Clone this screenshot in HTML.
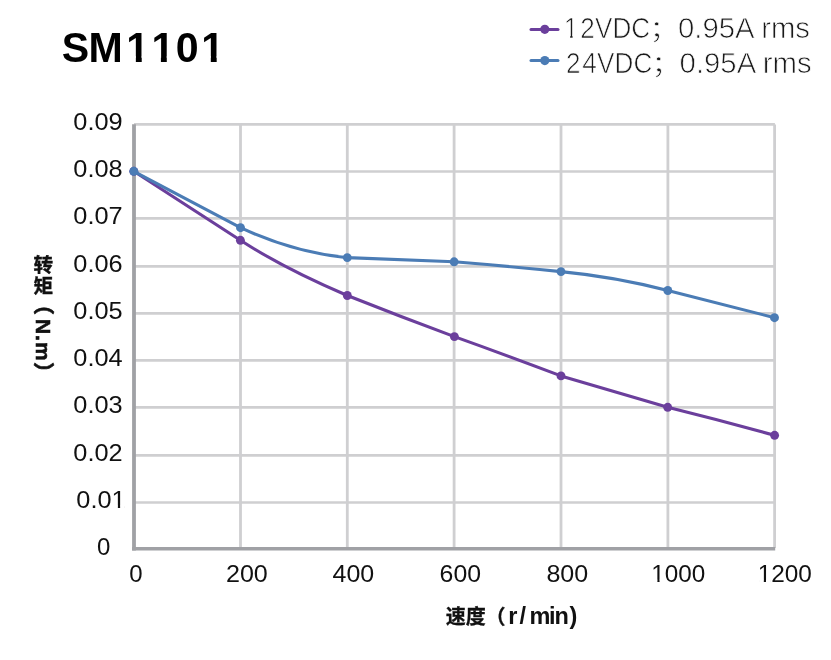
<!DOCTYPE html>
<html><head><meta charset="utf-8"><title>SM1101</title>
<style>
html,body{margin:0;padding:0;background:#fff;}
body{width:831px;height:660px;position:relative;overflow:hidden;}
svg{position:absolute;left:0;top:0;will-change:transform;}
text{font-family:"Liberation Sans","Noto Sans CJK SC",sans-serif;}
.t{font-size:24px;fill:#111;}
.ttl{font-size:42.4px;font-weight:bold;fill:#000;}
.lg{font-size:29px;fill:#1a1a1a;stroke:#fff;stroke-width:0.75px;}
.cj{font-family:"Noto Sans CJK SC","Liberation Sans",sans-serif;font-size:20.5px;font-weight:bold;fill:#111;}
.cjh{stroke:#111;stroke-width:0.4px;}
.lb{font-size:23.5px;font-weight:bold;fill:#111;}
.yl{font-size:20.9px;font-weight:bold;fill:#111;}
</style></head><body>
<svg width="831" height="660" viewBox="0 0 831 660">
<text transform="scale(0.97,1)" x="63.65 91.31 130.28 156.11 181.12 207.55" y="61.8" class="ttl">SM1101</text><rect x="127.36" y="56.18" width="8.49" height="6.52" fill="#fff"/><rect x="141.73" y="56.18" width="7.96" height="6.52" fill="#fff"/><rect x="152.41" y="56.18" width="8.49" height="6.52" fill="#fff"/><rect x="166.78" y="56.18" width="7.96" height="6.52" fill="#fff"/><rect x="202.31" y="56.18" width="8.49" height="6.52" fill="#fff"/><rect x="216.68" y="56.18" width="7.96" height="6.52" fill="#fff"/>
<line x1="531" y1="29.4" x2="558" y2="29.4" stroke="#6b3f9c" stroke-width="3" stroke-linecap="round"/>
<circle cx="544.8" cy="29.3" r="4.6" fill="#6b3f9c"/>
<line x1="531" y1="60.6" x2="558" y2="60.6" stroke="#4b7cb5" stroke-width="3" stroke-linecap="round"/>
<circle cx="544.8" cy="60.6" r="4.6" fill="#4b7cb5"/>
<text transform="scale(0.9,1)" x="626.29 644.77 661.11 680.70 701.45" y="38.3" class="lg">12VDC</text><rect x="564.04" y="34.83" width="6.07" height="4.38" fill="#fff"/><rect x="572.63" y="34.83" width="5.86" height="4.38" fill="#fff"/>
<text transform="translate(649.5,38.3) scale(1,0.845)" class="lg">；</text>
<text x="678" y="38.3" class="lg" textLength="132" lengthAdjust="spacingAndGlyphs">0.95A rms</text>
<text transform="scale(0.9,1)" x="628.88 646.91 663.22 682.65 703.84" y="73.2" class="lg">24VDC</text>
<text transform="translate(651.5,73.2) scale(1,0.845)" class="lg">；</text>
<text x="679.6" y="73.2" class="lg" textLength="132" lengthAdjust="spacingAndGlyphs">0.95A rms</text>
<line x1="134" y1="502.5" x2="774.9" y2="502.5" stroke="#cfcfd1" stroke-width="2.7"/>
<line x1="134" y1="455.3" x2="774.9" y2="455.3" stroke="#cfcfd1" stroke-width="2.7"/>
<line x1="134" y1="407.4" x2="774.9" y2="407.4" stroke="#cfcfd1" stroke-width="2.7"/>
<line x1="134" y1="360.3" x2="774.9" y2="360.3" stroke="#cfcfd1" stroke-width="2.7"/>
<line x1="134" y1="313.4" x2="774.9" y2="313.4" stroke="#cfcfd1" stroke-width="2.7"/>
<line x1="134" y1="266.4" x2="774.9" y2="266.4" stroke="#cfcfd1" stroke-width="2.7"/>
<line x1="134" y1="218.4" x2="774.9" y2="218.4" stroke="#cfcfd1" stroke-width="2.7"/>
<line x1="134" y1="171.5" x2="774.9" y2="171.5" stroke="#cfcfd1" stroke-width="2.7"/>
<line x1="134" y1="124.4" x2="774.9" y2="124.4" stroke="#cfcfd1" stroke-width="2.7"/>
<line x1="240.5" y1="123.1" x2="240.5" y2="548" stroke="#cfcfd1" stroke-width="2.8"/>
<line x1="347.3" y1="123.1" x2="347.3" y2="548" stroke="#cfcfd1" stroke-width="2.8"/>
<line x1="454.1" y1="123.1" x2="454.1" y2="548" stroke="#cfcfd1" stroke-width="2.8"/>
<line x1="561.0" y1="123.1" x2="561.0" y2="548" stroke="#cfcfd1" stroke-width="2.8"/>
<line x1="667.9" y1="123.1" x2="667.9" y2="548" stroke="#cfcfd1" stroke-width="2.8"/>
<line x1="774.6" y1="124.6" x2="774.6" y2="548" stroke="#cfcfd1" stroke-width="2.8"/>
<line x1="134" y1="124.2" x2="134" y2="550.6" stroke="#a0a1a5" stroke-width="3.8"/>
<line x1="132.1" y1="548.7" x2="775.2" y2="548.7" stroke="#a0a1a5" stroke-width="3.6"/>
<path d="M133.80,171.30 L240.40,240.30 C276.03,263.30 311.67,280.30 347.30,295.50 C383.00,309.70 418.70,323.40 454.40,336.60 C489.93,349.30 525.47,362.40 561.00,375.90 C596.57,386.67 632.13,397.13 667.70,407.30 C703.33,416.13 738.97,425.47 774.60,435.30" fill="none" stroke="#6b3f9c" stroke-width="3.1" stroke-linejoin="round"/>
<circle cx="133.8" cy="171.3" r="4.45" fill="#6b3f9c"/>
<circle cx="240.4" cy="240.3" r="4.45" fill="#6b3f9c"/>
<circle cx="347.3" cy="295.5" r="4.45" fill="#6b3f9c"/>
<circle cx="454.4" cy="336.6" r="4.45" fill="#6b3f9c"/>
<circle cx="561.0" cy="375.9" r="4.45" fill="#6b3f9c"/>
<circle cx="667.7" cy="407.3" r="4.45" fill="#6b3f9c"/>
<circle cx="774.6" cy="435.3" r="4.45" fill="#6b3f9c"/>
<path d="M133.80,171.30 L240.50,227.70 C276.10,244.27 311.70,254.23 347.30,257.60 C382.90,258.70 418.50,260.10 454.10,261.80 C489.73,264.67 525.37,267.93 561.00,271.60 C596.60,275.00 632.20,281.30 667.80,290.50 L774.50,317.70" fill="none" stroke="#4b7cb5" stroke-width="3.1" stroke-linejoin="round"/>
<circle cx="133.8" cy="171.3" r="4.45" fill="#4b7cb5"/>
<circle cx="240.5" cy="227.7" r="4.45" fill="#4b7cb5"/>
<circle cx="347.3" cy="257.6" r="4.45" fill="#4b7cb5"/>
<circle cx="454.1" cy="261.8" r="4.45" fill="#4b7cb5"/>
<circle cx="561.0" cy="271.6" r="4.45" fill="#4b7cb5"/>
<circle cx="667.8" cy="290.5" r="4.45" fill="#4b7cb5"/>
<circle cx="774.5" cy="317.7" r="4.45" fill="#4b7cb5"/>
<text x="103.6" y="554.6" text-anchor="middle" class="t">0</text>
<text x="125.6" y="507.8" text-anchor="end" class="t" textLength="49.3" lengthAdjust="spacingAndGlyphs">0.01</text>
<text x="122.6" y="460.6" text-anchor="end" class="t" textLength="49.3" lengthAdjust="spacingAndGlyphs">0.02</text>
<text x="122.6" y="412.7" text-anchor="end" class="t" textLength="49.3" lengthAdjust="spacingAndGlyphs">0.03</text>
<text x="122.6" y="365.6" text-anchor="end" class="t" textLength="49.3" lengthAdjust="spacingAndGlyphs">0.04</text>
<text x="122.6" y="318.7" text-anchor="end" class="t" textLength="49.3" lengthAdjust="spacingAndGlyphs">0.05</text>
<text x="122.6" y="271.7" text-anchor="end" class="t" textLength="49.3" lengthAdjust="spacingAndGlyphs">0.06</text>
<text x="122.6" y="223.7" text-anchor="end" class="t" textLength="49.3" lengthAdjust="spacingAndGlyphs">0.07</text>
<text x="122.6" y="176.8" text-anchor="end" class="t" textLength="49.3" lengthAdjust="spacingAndGlyphs">0.08</text>
<text x="122.6" y="129.7" text-anchor="end" class="t" textLength="49.3" lengthAdjust="spacingAndGlyphs">0.09</text>
<text x="135.9" y="581.9" text-anchor="middle" class="t">0</text>
<text x="246.9" y="581.9" text-anchor="middle" class="t" textLength="41.9" lengthAdjust="spacingAndGlyphs">200</text>
<text x="353.4" y="581.9" text-anchor="middle" class="t" textLength="41.7" lengthAdjust="spacingAndGlyphs">400</text>
<text x="460.3" y="581.9" text-anchor="middle" class="t" textLength="41.4" lengthAdjust="spacingAndGlyphs">600</text>
<text x="567.3" y="581.9" text-anchor="middle" class="t" textLength="41.8" lengthAdjust="spacingAndGlyphs">800</text>
<text x="678.3" y="581.9" text-anchor="middle" class="t" textLength="54" lengthAdjust="spacingAndGlyphs">1000</text>
<text x="784.8" y="581.9" text-anchor="middle" class="t" textLength="54.2" lengthAdjust="spacingAndGlyphs">1200</text>
<rect x="652.66" y="579.75" width="4.73" height="2.70" fill="#fff"/>
<rect x="659.56" y="579.75" width="4.54" height="2.70" fill="#fff"/>
<rect x="759.06" y="579.75" width="4.75" height="2.70" fill="#fff"/>
<rect x="765.99" y="579.75" width="4.56" height="2.70" fill="#fff"/>
<rect x="112.93" y="505.63" width="4.94" height="2.70" fill="#fff"/>
<rect x="120.13" y="505.63" width="4.74" height="2.70" fill="#fff"/>
<text x="445.7 465.7 485.6" y="623.6" class="cj cjh" style="font-size:20px;stroke-width:0.3px">速度（</text>
<text x="508.25 519.6 529.5 549.05 554.5 569.4" y="623.7" class="lb">r/min)</text>
<text x="43.4 43.4" y="272 292.8" class="cj cjh" text-anchor="middle" style="font-size:19.6px">转矩</text>
<g transform="translate(35.8,0) rotate(90)" class="cjh">
<text x="294 319 335 342 362" y="0" class="yl" style="stroke-width:0.6px">（N.m）</text>
</g>
</svg>
</body></html>
